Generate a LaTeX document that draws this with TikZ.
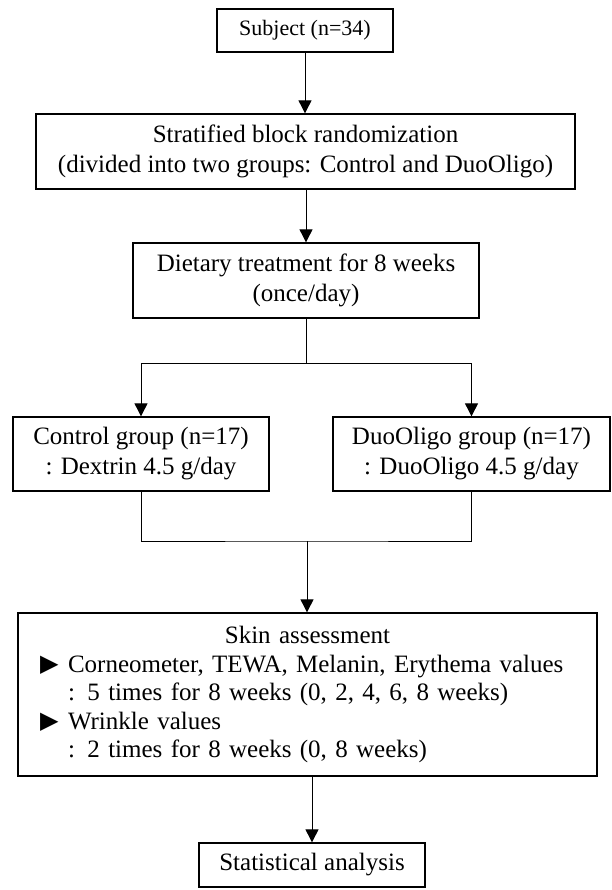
\documentclass[tikz,border=0pt]{standalone}
\usepackage{fontspec}
\setmainfont{Liberation Serif}
\newfontfamily\symfont{DejaVu Sans}
\usepackage{tikz}
\usetikzlibrary{positioning,arrows.meta,calc}

\newcommand{\tri}{\makebox[26pt][l]{\hspace*{-2pt}\raisebox{1pt}{\symfont\fontsize{24}{24}\selectfont ▶}}}

\tikzset{
  box/.style = {draw, line width = 1.3pt, align = center, inner sep = 0pt,
                font = \fontsize{25}{30}\selectfont},
  arr/.style = {line width = 0.9pt, -{Triangle[width = 13pt, length = 13pt]}},
  line/.style = {line width = 0.9pt}
}

\begin{document}
\begin{tikzpicture}[x = 1pt, y = -1pt]

\useasboundingbox (0,0) rectangle (612,890);

\node[box, minimum width = 176pt, minimum height = 43pt,
      font = \fontsize{22}{26}\selectfont] (subj) at (305,30.5) {Subject (n=34)};
\node[box, minimum width = 539pt, minimum height = 75pt] (strat) at (305.5,151.5)
  {Stratified block randomization\\(divided into two groups: Control and DuoOligo)};
\node[box, minimum width = 346pt, minimum height = 75pt] (diet) at (306,280.5)
  {Dietary treatment for 8 weeks\\(once/day)};

\node[box, minimum width = 256pt, minimum height = 74pt] (ctrl) at (141,454)
  {Control group (n=17)\\: Dextrin 4.5 g/day};
\node[box, minimum width = 277pt, minimum height = 74pt] (duo) at (471.5,454)
  {DuoOligo group (n=17)\\: DuoOligo 4.5 g/day};

\node[box, align = left, text width = 531pt, inner xsep = 24pt,
      minimum height = 163pt, font = \fontsize{25}{28.5}\selectfont] (skin) at (307.5,694.5)
  {\centering Skin assessment\par\raggedright
   \tri Corneometer, TEWA, Melanin, Erythema values\par
   \hspace*{26pt}: 5 times for 8 weeks (0, 2, 4, 6, 8 weeks)\par
   \tri Wrinkle values\par
   \hspace*{26pt}: 2 times for 8 weeks (0, 8 weeks)};

\node[box, minimum width = 226pt, minimum height = 44pt] (stat) at (312,865) {Statistical analysis};

\coordinate (split) at (306,363);
\coordinate (merge) at (307,541);

\draw[arr] (subj.south) -- (subj.south |- strat.north);
\draw[arr] (diet.north |- strat.south) -- (diet.north);
\draw[line] (diet.south) -- (split);
\draw[arr] (split) -| (ctrl.north);
\draw[arr] (split) -| (duo.north);
\draw[line] (ctrl.south) |- (merge) -| (duo.south);
\draw[arr] (merge) -- (merge |- skin.north);
\draw[arr] (stat.north |- skin.south) -- (stat.north);

\end{tikzpicture}
\end{document}
